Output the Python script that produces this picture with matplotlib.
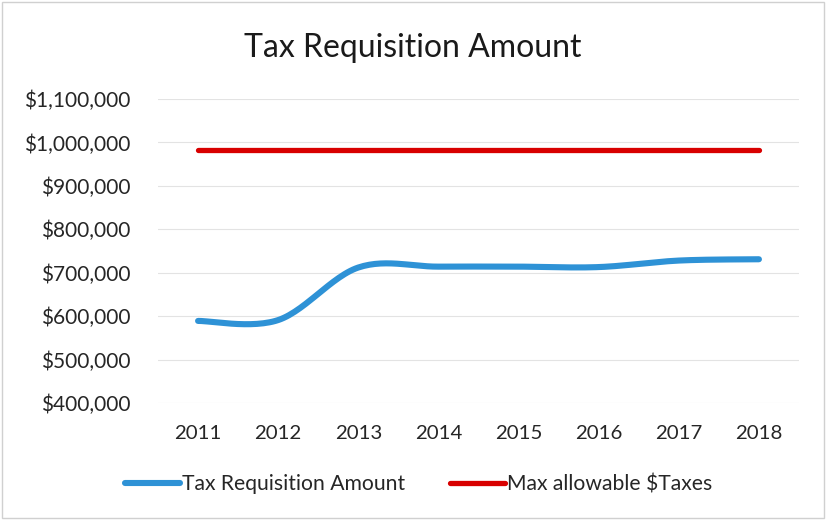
import numpy as np
import matplotlib
matplotlib.use("Agg")
import matplotlib.pyplot as plt
from matplotlib.ticker import FuncFormatter
from matplotlib.patches import Rectangle

plt.rcParams['font.family'] = ['Lato', 'DejaVu Sans']

years = ["2011", "2012", "2013", "2014", "2015", "2016", "2017", "2018"]
tax_requisition = [589000, 591000, 712000, 714000, 714000, 713000, 728000, 731000]
max_allowable = [983000] * 8
y_ticks = [400000, 500000, 600000, 700000, 800000, 900000, 1000000, 1100000]

title = "Tax Requisition Amount"
series_names = ["Tax Requisition Amount", "Max allowable $Taxes"]


def smooth(xs, ys, n=30):
    # Catmull-Rom style cubic Bezier smoothing (like Excel's smoothed line)
    xs = np.asarray(xs, float)
    ys = np.asarray(ys, float)
    pts = np.column_stack([xs, ys])
    out = []
    for i in range(len(pts) - 1):
        p0 = pts[i - 1] if i > 0 else pts[i]
        p1 = pts[i]
        p2 = pts[i + 1]
        p3 = pts[i + 2] if i + 2 < len(pts) else pts[i + 1]
        c1 = p1 + (p2 - p0) / 6.0
        c2 = p2 - (p3 - p1) / 6.0
        t = np.linspace(0, 1, n)[:, None]
        seg = ((1 - t) ** 3) * p1 + 3 * ((1 - t) ** 2) * t * c1 + 3 * (1 - t) * t ** 2 * c2 + t ** 3 * p2
        if i > 0:
            seg = seg[1:]
        out.append(seg)
    arr = np.vstack(out)
    return arr[:, 0], arr[:, 1]


fig = plt.figure(figsize=(8.26, 5.2), dpi=100)
fig.patch.set_facecolor("white")
fig.patches.append(Rectangle((0.002, 0.004), 0.996, 0.992, transform=fig.transFigure,
                             fill=False, edgecolor="#d0d0d0", linewidth=1.0))

ax = fig.add_axes([0.1913, 0.225, 0.7760, 0.5846])
x = np.arange(len(years))

bx, by = smooth(x, tax_requisition)
ax.plot(bx, by, color="#2E92D6", linewidth=4.4, solid_capstyle="round",
        label=series_names[0], zorder=3)
ax.plot(x, max_allowable, color="#D80000", linewidth=3.8, solid_capstyle="round",
        label=series_names[1], zorder=3)

ax.set_xlim(-0.5, len(years) - 0.5)
ax.set_ylim(400000, 1100000)
ax.set_yticks(y_ticks)
ax.yaxis.set_major_formatter(FuncFormatter(lambda v, p: "${:,.0f}".format(v)))
ax.set_xticks(x)
ax.set_xticklabels(years)
ax.grid(axis="y", color="#e3e3e3", linewidth=0.8)
ax.set_axisbelow(True)
for s in ax.spines.values():
    s.set_visible(False)
ax.tick_params(axis="both", length=0, colors="#262626")
ax.tick_params(axis="y", pad=20, labelsize=15)
ax.tick_params(axis="x", pad=16, labelsize=14.7)

fig.text(0.5, 0.908, title, ha="center", va="center", fontsize=23, color="#1a1a1a")

leg = fig.legend(loc="center", bbox_to_anchor=(0.507, 0.069), ncol=2, frameon=False,
                 fontsize=15.2, handlelength=2.6, handletextpad=0.1, columnspacing=2.1)
for t in leg.get_texts():
    t.set_color("#262626")

fig.savefig("out.png", dpi=100)
